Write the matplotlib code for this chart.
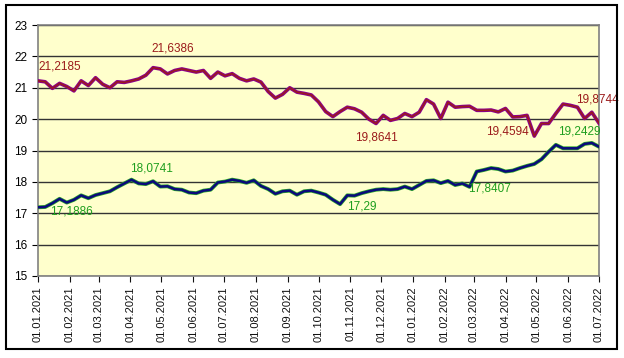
import numpy as np
import pandas as pd
import matplotlib
matplotlib.use("Agg")
import matplotlib.pyplot as plt
import matplotlib.dates as mdates
from matplotlib.patches import Rectangle

plt.rcParams['font.family'] = ['Liberation Sans', 'DejaVu Sans']

# weekly readings, 01.01.2021 .. 01.07.2022
weeks = pd.date_range("2021-01-01", periods=79, freq="7D")
upper = [21.22, 21.19, 20.98, 21.14, 21.04, 20.90, 21.22, 21.07, 21.32, 21.11,
         21.00, 21.19, 21.17, 21.22, 21.28, 21.40, 21.64, 21.60, 21.44, 21.55,
         21.60, 21.55, 21.50, 21.55, 21.30, 21.50, 21.38, 21.45, 21.30, 21.22,
         21.28, 21.18, 20.88, 20.67, 20.79, 21.00, 20.86, 20.82, 20.77, 20.55,
         20.24, 20.08, 20.24, 20.38, 20.33, 20.22, 20.00, 19.86, 20.12, 19.96,
         20.02, 20.18, 20.08, 20.22, 20.62, 20.48, 20.02, 20.54, 20.38, 20.40,
         20.41, 20.28, 20.28, 20.29, 20.23, 20.34, 20.07, 20.08, 20.12, 19.46,
         19.86, 19.86, 20.18, 20.48, 20.44, 20.38, 20.02, 20.22, 19.87]
lower = [17.19, 17.20, 17.32, 17.46, 17.34, 17.43, 17.57, 17.48, 17.58, 17.64,
         17.70, 17.83, 17.95, 18.07, 17.95, 17.93, 18.02, 17.85, 17.86, 17.77,
         17.75, 17.66, 17.64, 17.72, 17.75, 17.98, 18.01, 18.07, 18.03, 17.97,
         18.05, 17.87, 17.77, 17.62, 17.70, 17.72, 17.59, 17.70, 17.72, 17.66,
         17.59, 17.43, 17.29, 17.57, 17.56, 17.64, 17.70, 17.75, 17.77, 17.75,
         17.77, 17.85, 17.77, 17.90, 18.03, 18.05, 17.96, 18.03, 17.90, 17.95,
         17.84, 18.33, 18.38, 18.44, 18.41, 18.33, 18.36, 18.44, 18.51, 18.57,
         18.72, 18.96, 19.18, 19.07, 19.07, 19.07, 19.21, 19.24, 19.12]

# data labels: (week index, text)
up_labels = [(0, "21,2185"), (16, "21,6386"), (47, "19,8641"), (69, "19,4594"), (78, "19,8744")]
lo_labels = [(0, "17,1886"), (13, "18,0741"), (42, "17,29"), (60, "17,8407"), (77, "19,2429")]
months = pd.date_range("2021-01-01", "2022-07-01", freq="MS")

fig = plt.figure(figsize=(6.24, 3.58), dpi=100)
ax = fig.add_axes([38/624, 1-276/358, 561/624, 251/358])
ax.set_facecolor("#FFFFCC")

ax.plot(weeks, upper, color="#8B008B", lw=2.6, solid_joinstyle="round", zorder=3)
ax.plot(weeks, upper, color="#9B1B1B", lw=1.1, zorder=4)
ax.plot(weeks, lower, color="#2DA52D", lw=2.8, solid_joinstyle="round", zorder=3)
ax.plot(weeks, lower, color="#0A0A7A", lw=1.8, zorder=4)

offs_up = {0: (0, 10, "left"), 16: (-1, 14, "left"), 47: (0, -10, "center"),
           69: (-4, 3, "right"), 78: (-1, 17, "center")}
for i, t in up_labels:
    dx, dy, ha = offs_up[i]
    ax.annotate(t, (weeks[i], upper[i]), xytext=(dx, dy), textcoords="offset points",
                ha=ha, va="center", color="#9B1B1B", fontsize=8.5, annotation_clip=False, zorder=5)
offs_lo = {0: (9, -3, "left"), 13: (-1, 8, "left"), 42: (5, -2, "left"),
           60: (-1, -1, "left"), 77: (-9, 8, "center")}
for i, t in lo_labels:
    dx, dy, ha = offs_lo[i]
    ax.annotate(t, (weeks[i], lower[i]), xytext=(dx, dy), textcoords="offset points",
                ha=ha, va="center", color="#1E9E1E", fontsize=8.5, annotation_clip=False, zorder=5)

ax.set_ylim(15, 23)
ax.set_yticks(range(15, 24))
ax.set_xlim(months[0], months[-1])
ax.set_xticks(months)
ax.xaxis.set_major_formatter(mdates.DateFormatter("%d.%m.%Y"))
ax.tick_params(axis="x", rotation=90, labelsize=8, length=4, colors="#111111")
ax.tick_params(axis="y", labelsize=8.5, length=4)
ax.yaxis.grid(True, color="#333333", lw=1)
ax.set_axisbelow(True)
for s in ax.spines.values():
    s.set_color("#808080")
    s.set_linewidth(1.2)

fig.patches.append(Rectangle((6/624, 1-349/358), 611/624, 344/358, transform=fig.transFigure,
                             fill=False, ec="black", lw=1.5))
fig.savefig("out.png", dpi=100)
